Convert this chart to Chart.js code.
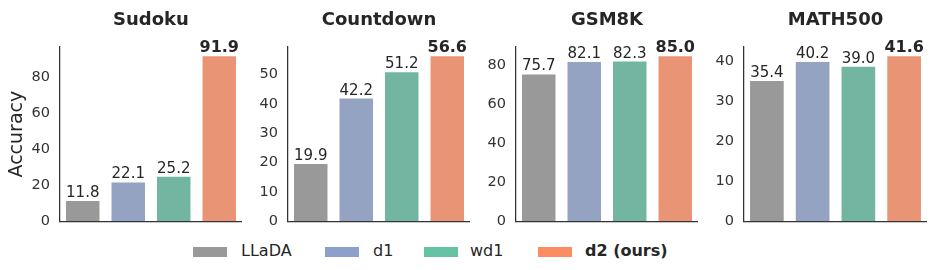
<!DOCTYPE html>
<html>
<head>
<meta charset="utf-8">
<script src="https://cdn.jsdelivr.net/npm/chart.js@4/dist/chart.umd.min.js"></script>
<style>
  body { margin: 0; background: #fff; width: 937px; height: 270px; position: relative; overflow: hidden; font-family: "DejaVu Sans", sans-serif; }
  .panel { position: absolute; top: 0; height: 240px; }
  .legend { position: absolute; top: 241px; left: 0; font-size: 16px; color: #262626; }
  .sw { position: absolute; top: 6px; width: 34px; height: 10px; }
  .lb { position: absolute; top: 0; white-space: nowrap; }
</style>
</head>
<body>
<div class="panel" style="left:0;width:242px"><canvas id="c0"></canvas></div>
<div class="panel" style="left:243px;width:227px"><canvas id="c1"></canvas></div>
<div class="panel" style="left:471px;width:227px"><canvas id="c2"></canvas></div>
<div class="panel" style="left:699px;width:228px"><canvas id="c3"></canvas></div>
<div class="legend" id="legend"></div>
<script>
// data
const tasks = ['Sudoku', 'Countdown', 'GSM8K', 'MATH500'];
const methods = ['LLaDA', 'd1', 'wd1', 'd2 (ours)'];
const llada = [11.8, 19.9, 75.7, 35.4];
const d1 = [22.1, 42.2, 82.1, 40.2];
const wd1 = [25.2, 51.2, 82.3, 39.0];
const d2 = [91.9, 56.6, 85.0, 41.6];
const yTicks = [
    [0, 20, 40, 60, 80],
    [0, 10, 20, 30, 40, 50],
    [0, 20, 40, 60, 80],
    [0, 10, 20, 30, 40]
];

// colours: legend = Set2, bars = seaborn desaturated
const legendColors = ['#999999', '#8da0cb', '#66c2a5', '#fc8d62'];
const barColors = ['#999999', '#95a3c3', '#72b6a1', '#e99575'];
const yWidths = [60, 45, 45, 45];

// value labels above bars + title above plot area
const valueLabels = {
    id: 'valueLabels',
    afterDatasetsDraw(chart, args, opts) {
        const ctx = chart.ctx;
        const meta = chart.getDatasetMeta(0);
        const data = chart.data.datasets[0].data;
        ctx.save();
        ctx.fillStyle = '#262626';
        ctx.textAlign = 'center';
        ctx.textBaseline = 'alphabetic';
        meta.data.forEach((bar, i) => {
            const best = i === data.length - 1;
            ctx.font = (best ? 'bold 16px' : '15px') + ' "DejaVu Sans"';
            ctx.fillText(data[i].toFixed(1), bar.x, bar.y - 3);
        });
        // title
        const a = chart.chartArea;
        ctx.font = 'bold 18px "DejaVu Sans"';
        ctx.textBaseline = 'middle';
        ctx.fillText(opts.title, (a.left + a.right) / 2, 20);
        ctx.restore();
    }
};

function makeChart(k) {
    const vals = [llada[k], d1[k], wd1[k], d2[k]];
    const ctx = document.getElementById('c' + k);
    return new Chart(ctx, {
        type: 'bar',
        data: {
            labels: methods,
            datasets: [{
                data: vals,
                backgroundColor: barColors,
                borderColor: 'rgba(255,255,255,0.5)',
                borderWidth: 1,
                categoryPercentage: 1,
                barPercentage: 0.78
            }]
        },
        options: {
            responsive: true,
            maintainAspectRatio: false,
            animation: false,
            layout: { padding: { top: 47, bottom: 14, left: 0, right: 0 } },
            plugins: {
                legend: { display: false },
                tooltip: { enabled: false },
                valueLabels: { title: tasks[k] }
            },
            scales: {
                x: {
                    grid: { display: false, drawTicks: false },
                    ticks: { display: false },
                    border: { color: '#333', width: 1.25 },
                    afterFit(scale) { scale.height = 0; }
                },
                y: {
                    min: 0,
                    max: Math.max(...vals) * 1.05,
                    grid: { display: false, drawTicks: false },
                    border: { color: '#333', width: 1.25 },
                    ticks: {
                        color: '#333',
                        padding: 10,
                        font: { family: 'DejaVu Sans', size: 14.5 }
                    },
                    afterBuildTicks(scale) {
                        scale.ticks = yTicks[k].map(v => ({ value: v }));
                    },
                    title: {
                        display: k === 0,
                        text: 'Accuracy',
                        color: '#262626',
                        padding: { top: 6, bottom: 0 },
                        font: { family: 'DejaVu Sans', size: 19 }
                    },
                    afterFit(scale) { scale.width = yWidths[k]; }
                }
            }
        },
        plugins: [valueLabels]
    });
}

tasks.forEach((t, k) => makeChart(k));

// shared legend
const swX = [193, 325, 424, 538];
const lbX = [241, 373, 470, 585];
const legend = document.getElementById('legend');
methods.forEach((m, i) => {
    const sw = document.createElement('div');
    sw.className = 'sw';
    sw.style.left = swX[i] + 'px';
    sw.style.background = legendColors[i];
    legend.appendChild(sw);
    const lb = document.createElement('div');
    lb.className = 'lb';
    lb.style.left = lbX[i] + 'px';
    if (i === methods.length - 1) lb.style.fontWeight = 'bold';
    lb.textContent = m;
    legend.appendChild(lb);
});
</script>
</body>
</html>
